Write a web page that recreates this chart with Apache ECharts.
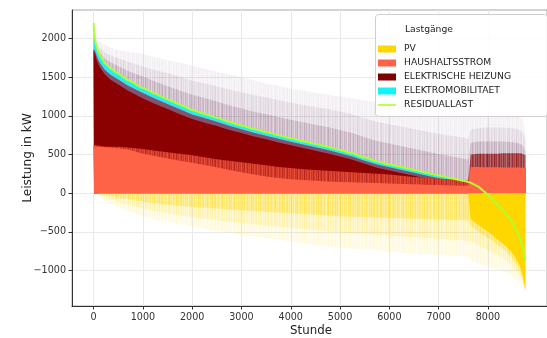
<!DOCTYPE html>
<html><head><meta charset="utf-8">
<script src="https://cdn.jsdelivr.net/npm/echarts@6/dist/echarts.min.js"></script>
<style>html,body{margin:0;padding:0;background:#fff}#c{width:547px;height:338px}</style>
</head><body><div id="c"></div>
<script>
// ---- data ----
const hours = [0,10,30,60,100,150,230,350,500,700,
  1000,1250,1500,1750,2000,2250,2500,2750,3000,3250,3500,3750,4000,4250,4500,4750,5000,5250,5500,5750,6000,6250,6500,6750,7000,7250,7500,
  7600,7650,7700,7800,7900,8000,8100,8200,8300,8400,8500,8600,8650,8700,8730,8760];

const residual = [2200,2080,1980,1900,1820,1760,1680,1610,1545,1460,
  1360,1285,1215,1145,1075,1025,975,922,875,830,790,750,710,672,635,600,558,515,460,410,372,336,300,264,228,194,160,
  145,135,120,85,35,-25,-90,-150,-220,-290,-380,-510,-590,-690,-770,-870];

const emobTop = [2020,2000,1960,1890,1815,1755,1678,1608,1543,1458,
  1358,1283,1213,1143,1073,1023,973,920,873,828,788,748,708,670,633,598,556,513,458,408,370,334,298,262,226,192,158,
  143,0,0,0,0,0,0,0,0,0,0,0,0,0,0,0];

const heatBlendTop = [1870,1860,1840,1780,1715,1665,1595,1530,1470,1390,
  1295,1223,1155,1087,1019,971,923,872,827,783,744,705,666,629,593,559,518,475,421,372,334,299,263,228,192,159,125,
  110,0,0,0,0,0,0,0,0,0,0,0,0,0,0,0];

const heatTop = [1850,1830,1800,1730,1660,1605,1535,1465,1405,1325,
  1225,1153,1090,1022,959,911,868,817,777,733,696,657,620,583,548,514,474,431,379,330,294,259,225,190,156,123,90,
  78,0,0,0,0,0,0,0,0,0,0,0,0,0,0,0];

const heatTail = [0,0,0,0,0,0,0,0,0,0,
  0,0,0,0,0,0,0,0,0,0,0,0,0,0,0,0,0,0,0,0,0,0,0,0,0,0,0,
  160,500,505,510,510,510,510,510,515,515,515,515,515,510,505,490];

const householdMix = [625,625,625,620,615,610,605,600,600,590,
  570,550,530,510,490,465,440,420,400,380,360,340,325,310,300,290,280,270,260,250,240,225,210,200,190,180,165,
  160,340,340,338,336,335,335,334,333,333,332,332,331,330,330,328];

const household = [600,605,605,600,600,598,595,590,580,565,
  510,480,450,420,395,365,335,300,270,240,215,195,180,170,160,150,145,140,135,130,125,120,115,110,105,100,95,
  95,340,340,338,336,335,335,334,333,333,332,332,331,330,330,328];

const spikeStrong = [2200,2080,1990,1920,1850,1800,1740,1690,1645,1580,
  1510,1445,1385,1330,1275,1230,1185,1137,1095,1055,1020,985,950,917,885,855,818,777,724,676,642,608,574,540,508,479,450,
  435,650,660,670,670,670,670,670,670,665,660,650,640,620,590,540];

const spikeMedium = [2200,2090,2010,1950,1900,1870,1820,1780,1745,1700,
  1640,1595,1555,1505,1455,1420,1385,1342,1305,1270,1240,1205,1170,1142,1115,1090,1058,1020,970,925,892,861,830,799,768,744,720,
  705,820,830,840,845,850,850,850,850,845,840,830,815,790,750,680];

const spikeFaint = [2200,2100,2030,1990,1970,1950,1920,1880,1850,1830,
  1800,1760,1720,1690,1650,1610,1570,1540,1500,1460,1420,1390,1350,1325,1300,1275,1250,1225,1200,1175,1150,1130,1115,1100,1080,1065,1055,
  1050,1050,1050,1050,1050,1050,1050,1050,1050,1040,1030,1010,990,950,880,760];

const pvStrong = [0,0,0,0,0,-10,-20,-40,-60,-80,
  -110,-130,-150,-165,-180,-190,-200,-210,-220,-230,-240,-250,-260,-270,-280,-290,-300,-305,-310,-315,-320,-325,-330,-335,-340,-345,-350,
  -355,-420,-450,-500,-540,-580,-620,-670,-720,-780,-850,-940,-1010,-1100,-1180,-1260];

const pvMedium = [0,0,0,0,-10,-30,-50,-80,-110,-150,
  -200,-230,-260,-290,-310,-330,-350,-370,-390,-405,-420,-435,-450,-465,-480,-495,-510,-520,-530,-540,-550,-560,-570,-580,-590,-600,-610,
  -620,-620,-640,-680,-710,-740,-770,-800,-840,-890,-950,-1020,-1080,-1150,-1210,-1270];

const pvFaint = [0,0,0,-10,-30,-60,-100,-140,-180,-230,
  -300,-340,-370,-400,-430,-460,-490,-510,-540,-560,-580,-600,-630,-650,-670,-690,-710,-720,-730,-740,-760,-770,-780,-790,-800,-810,-820,
  -830,-870,-890,-910,-930,-950,-970,-990,-1010,-1040,-1080,-1130,-1170,-1210,-1250,-1280];

const pvSolid = [0,0,0,0,0,0,0,0,0,0,
  0,0,0,0,0,0,0,0,0,0,0,0,0,0,0,0,0,0,0,0,0,0,0,0,0,0,0,
  0,-330,-360,-410,-450,-500,-550,-600,-650,-710,-780,-880,-950,-1060,-1150,-1250];

const xTicks = [0,1000,2000,3000,4000,5000,6000,7000,8000];
const yTicks = [-1000,-500,0,500,1000,1500,2000];
const legendNames = ['PV','HAUSHALTSSTROM','ELEKTRISCHE HEIZUNG','ELEKTROMOBILITAET','RESIDUALLAST'];
const legendTitle = 'Lastgänge';

// ---- styling helpers (streak texture, style only) ----
const STREAK = [0.9,0.3,0.6,1,0.2,0.5,0.8,0.4,0.1,0.7,1,0.35,0.6,0.15,0.85,0.5,0.25,0.95,0.45,0.7,0.1,0.55,0.9,0.3,0.65,0.2,0.8,0.4,0.6,0.05,0.75,0.5,0.95,0.15,0.4,0.85,0.3,0.6,0.2,1,0.45,0.7,0.25,0.55,0.8,0.1,0.65,0.35,0.9,0.5,0.2,0.75,0.4];
function streaks(rgb, base, amp, bg) {
  const c = document.createElement('canvas');
  c.width = STREAK.length; c.height = 4;
  const ctx = c.getContext('2d');
  if (bg) { ctx.fillStyle = bg; ctx.fillRect(0, 0, c.width, c.height); }
  STREAK.forEach((a, i) => {
    ctx.fillStyle = 'rgba(' + rgb + ',' + Math.min(1, base + a * amp) + ')';
    ctx.fillRect(i, 0, 1, c.height);
  });
  return { image: c, repeat: 'repeat' };
}

const FONT = '"DejaVu Sans", sans-serif';
const pairs = vals => hours.map((h, i) => [h, vals[i]]);
function area(name, vals, color, z) {
  return {
    type: 'line', name, data: pairs(vals), symbol: 'none', showSymbol: false,
    lineStyle: { width: 0 }, areaStyle: { color: color, opacity: 1 },
    itemStyle: { color: typeof color === 'string' ? color : '#888' }, z: z, silent: true
  };
}
const C = { pv: '#FFD700', hh: '#FF6347', heat: '#8B0000', emob: '#2BEBF2', res: '#ADFF2F' };
const minus = v => v < 0 ? '\u2212' + Math.abs(v) : String(v);

const chart = echarts.init(document.getElementById('c'), null, { renderer: 'canvas' });
chart.setOption({
  animation: false,
  backgroundColor: '#ffffff',
  grid: { left: 72, top: 10, width: 478, height: 296, show: true, borderColor: '#a8a8a8', borderWidth: 1, backgroundColor: 'transparent' },
  xAxis: {
    type: 'value', min: -438, max: 9198,
    axisLine: { show: true, onZero: false, lineStyle: { color: '#333', width: 1 } },
    axisTick: { show: true, customValues: xTicks, length: 3.5, lineStyle: { color: '#333' } },
    axisLabel: { customValues: xTicks, color: '#333', fontFamily: FONT, fontSize: 9.6, margin: 6, formatter: v => String(v) },
    splitLine: { show: false }
  },
  yAxis: {
    type: 'value', min: -1460, max: 2370,
    axisLine: { show: true, onZero: false, lineStyle: { color: '#333', width: 1 } },
    axisTick: { show: true, customValues: yTicks, length: 3.5, lineStyle: { color: '#333' } },
    axisLabel: { customValues: yTicks, color: '#333', fontFamily: FONT, fontSize: 9.6, margin: 6, formatter: minus },
    splitLine: { show: false }
  },
  legend: {
    orient: 'vertical', left: 378, top: 43, padding: 0, itemWidth: 18, itemHeight: 7, itemGap: 2,
    selectedMode: false, z: 120,
    textStyle: { fontFamily: FONT, fontSize: 9.2, color: '#222', lineHeight: 12, padding: [0, 0, 0, 3] },
    data: [
      { name: legendNames[0], icon: 'rect', itemStyle: { color: C.pv, opacity: 1 } },
      { name: legendNames[1], icon: 'rect', itemStyle: { color: C.hh, opacity: 1 } },
      { name: legendNames[2], icon: 'rect', itemStyle: { color: '#7f0000', opacity: 1 } },
      { name: legendNames[3], icon: 'rect', itemStyle: { color: '#14F2F7', opacity: 1 } },
      { name: legendNames[4], icon: 'path://M0,0 L18,0 L18,1.6 L0,1.6 Z', itemStyle: { color: C.res, opacity: 1 } }
    ]
  },
  graphic: [
    { type: 'rect', z: 100, shape: { x: 375.5, y: 14.5, width: 172, height: 102, r: 3 },
      style: { fill: 'rgba(255,255,255,0.85)', stroke: '#cfcfcf', lineWidth: 1 } },
    { type: 'text', z: 101, x: 405, y: 29.5, style: { text: legendTitle, font: '9.2px ' + FONT, fill: '#222', align: 'left', verticalAlign: 'middle' } },
    { type: 'text', z: 101, x: 28, y: 158, rotation: Math.PI / 2,
      style: { text: 'Leistung in kW', font: '12.2px ' + FONT, fill: '#222', align: 'center', verticalAlign: 'middle' } },
    { type: 'text', z: 101, x: 311, y: 331, style: { text: 'Stunde', font: '11.8px ' + FONT, fill: '#222', align: 'center', verticalAlign: 'middle' } }
  ],
  series: [
    { type: 'line', name: 'grid', data: [], z: 0, silent: true,
      markLine: { silent: true, z: 0, symbol: 'none', label: { show: false }, animation: false,
        lineStyle: { color: '#e9e9e9', width: 1, type: 'solid' },
        data: xTicks.map(v => ({ xAxis: v })).concat(yTicks.map(v => ({ yAxis: v }))) } },
    area('spikeF', spikeFaint, streaks('120,80,120', 0.04, 0.06), 2),
    area('spikeM', spikeMedium, streaks('110,65,105', 0.05, 0.09), 2),
    area('spikeS', spikeStrong, streaks('110,50,90', 0.10, 0.16), 2),
    area(legendNames[3], emobTop, C.emob, 3),
    area('blend', heatBlendTop, '#86506f', 3),
    area(legendNames[2], heatTop, C.heat, 3),
    area('heatTail', heatTail, streaks('139,0,0', 0.45, 0.35), 3),
    area('mix', householdMix, streaks('139,0,0', 0.15, 0.45, C.hh), 3),
    area(legendNames[1], household, C.hh, 3),
    area('pvF', pvFaint, streaks('255,215,0', 0.05, 0.10), 3),
    area('pvM', pvMedium, streaks('255,215,0', 0.08, 0.15), 3),
    area('pvS', pvStrong, streaks('255,215,0', 0.18, 0.30), 3),
    area(legendNames[0], pvSolid, C.pv, 3),
    { type: 'line', name: legendNames[4], data: pairs(residual), symbol: 'none', showSymbol: false,
      smooth: 0.15, smoothMonotone: 'x', lineStyle: { color: C.res, width: 2 }, itemStyle: { color: C.res }, z: 5, silent: true }
  ]
});
</script></body></html>
